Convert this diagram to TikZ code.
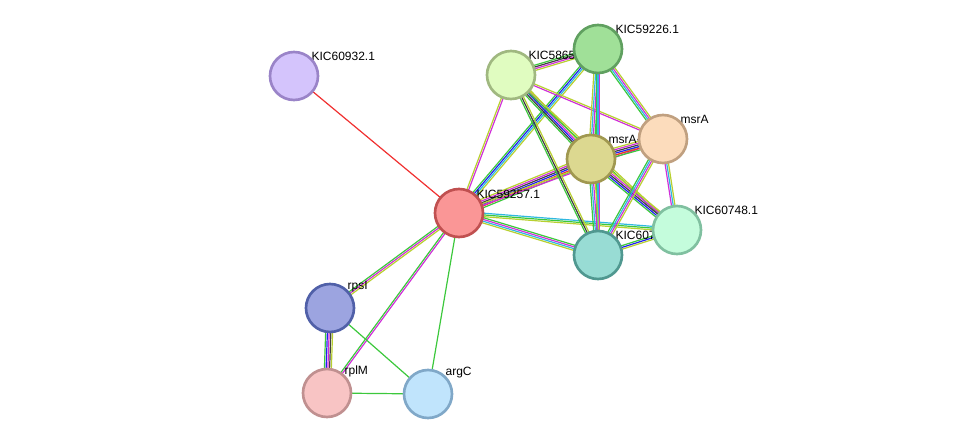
\documentclass[tikz,border=0pt]{standalone}
\usepackage{fontspec}
\setmainfont{Liberation Sans}
\usetikzlibrary{calc}
\definecolor{eg}{HTML}{3CC83C}
\definecolor{eb}{HTML}{2020F0}
\definecolor{em}{HTML}{D030D8}
\definecolor{ec}{HTML}{30B8E0}
\definecolor{ey}{HTML}{B8D030}
\definecolor{ek}{HTML}{404040}
\definecolor{er}{HTML}{F03030}
\tikzset{prot/.style={circle,minimum size=36,inner sep=0pt,line width=2pt},
  lab/.style={anchor=south west,inner sep=1pt,font=\fontsize{9}{10}\selectfont}}
\newcommand\edge[4]{%
  \foreach \c [count=\i] in {#4} {
    \pgfmathsetmacro{\o}{(\i-(#3+1)/2)*1.3}
    \draw[\c,line width=0.9pt] ($(#1)!\o pt!90:(#2)$) -- ($(#2)!\o pt!-90:(#1)$);
  }}
\begin{document}
\begin{tikzpicture}[x=0.75pt,y=-0.75pt]
  \useasboundingbox (0,0) rectangle (975,440);
  % positions
  \coordinate (p59257) at (459,213);
  \coordinate (p60932) at (294,76);
  \coordinate (p58656) at (511,75);
  \coordinate (p59226) at (598,49);
  \coordinate (pmsrA) at (663,139);
  \coordinate (pmsrA2) at (591,159);
  \coordinate (p60748) at (677,230);
  \coordinate (p60781) at (598,255);
  \coordinate (prpsI) at (330,308);
  \coordinate (prplM) at (327,393);
  \coordinate (pargC) at (428,394);
  % edges
  \edge{p60932}{p59257}{1}{er}
  \edge{p59257}{p58656}{2}{em,ey}
  \edge{p59257}{p59226}{4}{ey,ec,eb,eg}
  \edge{p59257}{pmsrA2}{6}{eg,er,eb,ek,em,ey}
  \edge{p59257}{pmsrA}{2}{em,ey}
  \edge{p59257}{p60748}{3}{ey,eg,ec}
  \edge{p59257}{p60781}{4}{ey,ec,em,eg}
  \edge{p59257}{prpsI}{3}{eg,em,ey}
  \edge{p59257}{prplM}{2}{eg,em}
  \edge{p59257}{pargC}{1}{eg}
  \edge{prpsI}{prplM}{5}{eg,eb,em,ek,ey}
  \edge{prpsI}{pargC}{1}{eg}
  \edge{prplM}{pargC}{1}{eg}
  \edge{p58656}{p59226}{4}{ey,em,ek,eg}
  \edge{p58656}{pmsrA2}{5}{eg,ek,eb,em,ey}
  \edge{p58656}{pmsrA}{2}{em,ey}
  \edge{p58656}{p60748}{2}{eg,ey}
  \edge{p58656}{p60781}{3}{eg,ek,ey}
  \edge{p59226}{pmsrA2}{4}{ey,ec,em,eg}
  \edge{p59226}{pmsrA}{4}{eg,ec,em,ey}
  \edge{p59226}{p60781}{3}{eg,ec,em}
  \edge{pmsrA2}{pmsrA}{6}{eg,er,eb,ek,em,ey}
  \edge{pmsrA2}{p60748}{5}{eg,eb,ek,em,ey}
  \edge{pmsrA2}{p60781}{4}{eg,ec,em,ey}
  \edge{pmsrA}{p60748}{3}{em,ec,ey}
  \edge{pmsrA}{p60781}{4}{eg,ec,em,ey}
  \edge{p60781}{p60748}{3}{ey,eb,eg}
  % labels
  \node[lab] (l59257) at (475,200) {KIC59257.1};
  \node[lab] (l60932) at (310,62) {KIC60932.1};
  \node[lab] (l58656) at (527,61) {KIC58656.1};
  \node[lab] (l59226) at (614,35) {KIC59226.1};
  \node[lab] (lmsrA) at (679,125) {msrA};
  \node[lab] (lmsrA2) at (607,145) {msrA-2};
  \node[lab] (l60748) at (693,216) {KIC60748.1};
  \node[lab] (l60781) at (614,241) {KIC60781.1};
  \node[lab] (lrpsI) at (346,294) {rpsI};
  \node[lab] (lrplM) at (343,379) {rplM};
  \node[lab] (largC) at (444,380) {argC};
  % proteins
  \node[prot,fill={rgb,255:red,250;green,150;blue,150},draw={rgb,255:red,192;green,80;blue,80}] (KIC59257) at (p59257) {};
  \node[prot,fill={rgb,255:red,212;green,196;blue,252},draw={rgb,255:red,154;green,132;blue,200}] (KIC60932) at (p60932) {};
  \node[prot,fill={rgb,255:red,224;green,252;blue,192},draw={rgb,255:red,160;green,184;blue,128}] (KIC58656) at (p58656) {};
  \node[prot,fill={rgb,255:red,160;green,224;blue,152},draw={rgb,255:red,96;green,160;blue,96}] (KIC59226) at (p59226) {};
  \node[prot,fill={rgb,255:red,252;green,220;blue,188},draw={rgb,255:red,192;green,160;blue,128}] (msrA) at (pmsrA) {};
  \node[prot,fill={rgb,255:red,220;green,216;blue,144},draw={rgb,255:red,160;green,152;blue,80}] (msrA2) at (pmsrA2) {};
  \node[prot,fill={rgb,255:red,196;green,252;blue,220},draw={rgb,255:red,128;green,192;blue,160}] (KIC60748) at (p60748) {};
  \node[prot,fill={rgb,255:red,152;green,220;blue,212},draw={rgb,255:red,80;green,152;blue,144}] (KIC60781) at (p60781) {};
  \node[prot,fill={rgb,255:red,156;green,164;blue,224},draw={rgb,255:red,80;green,96;blue,168}] (rpsI) at (prpsI) {};
  \node[prot,fill={rgb,255:red,248;green,196;blue,196},draw={rgb,255:red,192;green,144;blue,144}] (rplM) at (prplM) {};
  \node[prot,fill={rgb,255:red,192;green,228;blue,252},draw={rgb,255:red,128;green,168;blue,200}] (argC) at (pargC) {};
\end{tikzpicture}
\end{document}
